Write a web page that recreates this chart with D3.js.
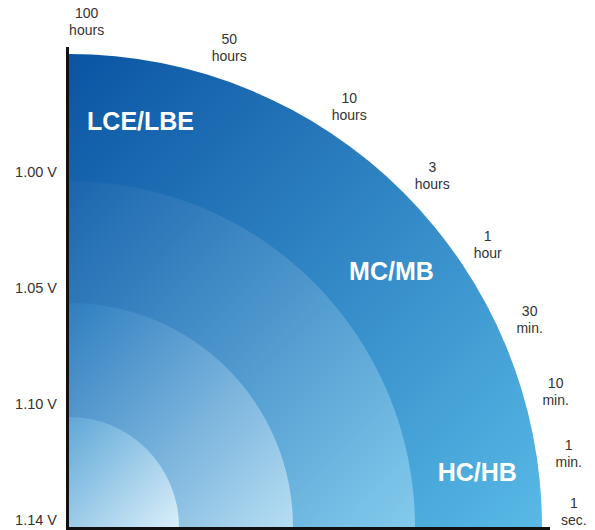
<!DOCTYPE html>
<html><head><meta charset="utf-8">
<script src="https://cdn.jsdelivr.net/npm/d3@7"></script>
<style>
html,body{margin:0;padding:0;background:#fff;}
svg{display:block;font-family:"Liberation Sans",Arial,Helvetica,sans-serif;}
</style></head>
<body>
<svg id="c" width="595" height="530"></svg>
<script>
// ---- data ----
const layerNames = ["LCE/LBE", "MC/MB", "HC/HB", "inner"];
const layerRadius = [473, 346, 224, 110];          // relative size of each zone
const layerColorStart = ["#0a54a3", "#1b65ae", "#2f7ec0", "#5fa7d7"];
const layerColorEnd   = ["#58b9e6", "#82cbed", "#b6def3", "#daeffa"];
const zoneLabels = ["LCE/LBE", "MC/MB", "HC/HB"];
const zoneLabelAngle = [10, 51.5, 82.3];            // degrees from vertical
const timeTop = ["100", "50", "10", "3", "1", "30", "10", "1", "1"];
const timeBottom = ["hours", "hours", "hours", "hours", "hour", "min.", "min.", "min.", "sec."];
const timeAngle = [2, 18.5, 33.7, 46, 56, 65.8, 74.5, 81.7, 88.3];
const voltLabels = ["1.00 V", "1.05 V", "1.10 V", "1.14 V"];

// ---- layout ----
const svg = d3.select("#c");
const ox = 69, oy = 527;
const r = d3.scaleLinear().domain([0, 473]).range([0, 473]);
const ang = d3.scaleLinear().domain([0, 90]).range([0, Math.PI / 2]);
const yV = d3.scalePoint().domain(voltLabels).range([172, 520]);

const defs = svg.append("defs");
layerNames.forEach((n, i) => {
  const g = defs.append("linearGradient").attr("id", "g" + i)
    .attr("x1", 0).attr("y1", 0).attr("x2", 1).attr("y2", 1);
  g.append("stop").attr("offset", 0).attr("stop-color", layerColorStart[i]);
  g.append("stop").attr("offset", 1).attr("stop-color", layerColorEnd[i]);
});

const arc = d3.arc().innerRadius(0).startAngle(0).endAngle(Math.PI / 2);
const plot = svg.append("g").attr("transform", `translate(${ox},${oy})`);
plot.selectAll("path.zone").data(layerRadius).join("path")
  .attr("class", "zone")
  .attr("d", d => arc({outerRadius: r(d)}))
  .attr("fill", (d, i) => `url(#g${i})`);

// zone labels
const labelR = 412;
plot.selectAll("text.zl").data(zoneLabels).join("text")
  .attr("class", "zl")
  .attr("x", (d, i) => labelR * Math.sin(ang(zoneLabelAngle[i])))
  .attr("y", (d, i) => -labelR * Math.cos(ang(zoneLabelAngle[i])))
  .attr("text-anchor", "middle").attr("dominant-baseline", "central")
  .attr("fill", "#fff").attr("font-weight", "bold").attr("font-size", 25)
  .text(d => d);

// time labels
const tR = 505;
const tl = plot.selectAll("g.tl").data(timeTop).join("g").attr("class", "tl")
  .attr("transform", (d, i) => `translate(${tR * Math.sin(ang(timeAngle[i]))},${-tR * Math.cos(ang(timeAngle[i]))})`);
tl.append("text").attr("y", -4).attr("text-anchor", "middle")
  .attr("font-size", 14).attr("fill", "#333").text(d => d);
tl.append("text").attr("y", 13).attr("text-anchor", "middle")
  .attr("font-size", 14).attr("fill", "#333").text((d, i) => timeBottom[i]);

// voltage labels
svg.selectAll("text.vl").data(voltLabels).join("text").attr("class", "vl")
  .attr("x", 57).attr("y", d => yV(d)).attr("dominant-baseline", "central")
  .attr("text-anchor", "end").attr("font-size", 14.5).attr("fill", "#333")
  .text(d => d);

// axes lines
svg.append("line").attr("x1", 67.5).attr("x2", 67.5).attr("y1", 47).attr("y2", 530)
  .attr("stroke", "#111").attr("stroke-width", 3);
svg.append("line").attr("x1", 66).attr("x2", 550).attr("y1", 528.5).attr("y2", 528.5)
  .attr("stroke", "#111").attr("stroke-width", 3);
</script>
</body></html>
